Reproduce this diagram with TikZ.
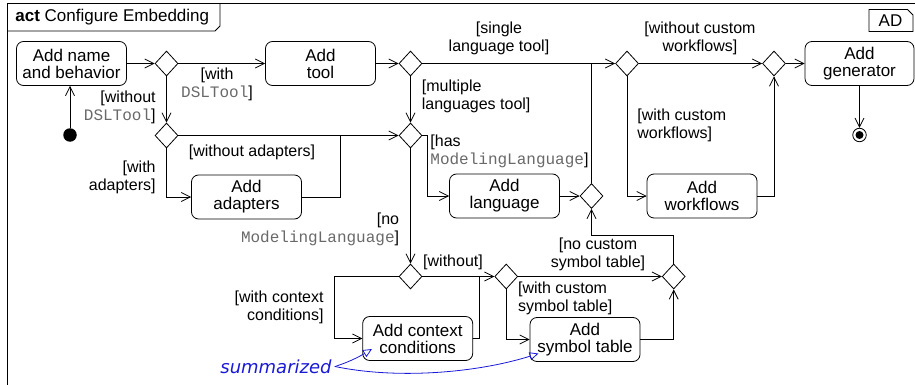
\documentclass[tikz,border=0pt]{standalone}
\usepackage{fontspec}
\setmainfont{Liberation Sans}
\setmonofont{Liberation Mono}
\newfontfamily\notefont{DejaVu Sans}
\usepackage{tikz}
\usetikzlibrary{arrows.meta}
\usetikzlibrary{shapes,positioning}
\tikzset{>={Straight Barb[length=9pt,width=9pt]}}
\definecolor{codegray}{RGB}{105,105,105}
\definecolor{noteblue}{RGB}{25,25,215}
\newcommand{\codetxt}[1]{{\ttfamily\color{codegray}#1}}
\tikzset{
  actbox/.style={draw, rounded corners=7pt, minimum width=110pt, minimum height=44pt,
    align=center, inner sep=0pt, font=\fontsize{17}{17}\selectfont},
  choice/.style={draw, diamond, minimum width=23pt, minimum height=25pt, inner sep=0pt},
  guard/.style={inner sep=0pt, font=\fontsize{16}{18}\selectfont},
  note/.style={noteblue, line width=0.8pt, -{Triangle[open,length=9pt,width=8pt]}}
}

\begin{document}
\begin{tikzpicture}[x=1pt, y=-1pt, line width=0.8pt, line cap=round]

    \useasboundingbox (0,0) rectangle (915,385);

    \draw (7.5,385) -- (7.5,3.5) -- (915,3.5);
    \draw (7.5,31) -- (215,31) -- (220,26) -- (220,3.5);
    \node[anchor=west, inner sep=0pt, font=\fontsize{17}{17}\selectfont] (title) at (15,17.5) {\textbf{act} Configure Embedding};

    \draw (869,9.5) -- (907.5,9.5) -- (913,15) -- (913,31.5) -- (869,31.5) -- cycle;
    \node[inner sep=0pt, font=\fontsize{17}{17}\selectfont] (tag) at (890.5,21) {AD};

	\node[actbox] (name) at (71.5,63.5) {Add name\\and behavior};
	\node[actbox] (tool) at (320.5,63.5) {Add\\tool};
	\node[actbox] (adapt) at (246.5,197) {Add\\adapters};
	\node[actbox] (lang) at (504.5,196) {Add\\language};
	\node[actbox] (wf) at (702,196) {Add\\workflows};
	\node[actbox, minimum width=109pt] (gen) at (859.5,63.5) {Add\\generator};
	\node[actbox] (ctx) at (417.7,338.5) {Add context\\conditions};
	\node[actbox] (sym) at (585,339.5) {Add\\symbol table};

	\node[choice] (d1) at (166.5,63.5) {};
	\node[choice] (d2) at (166.5,135.5) {};
	\node[choice] (d3) at (410.5,135.5) {};
	\node[choice] (d4) at (410.5,63.5) {};
	\node[choice] (d5) at (627,63.5) {};
	\node[choice] (d6) at (774,63.5) {};
	\node[choice] (d7) at (591.5,196) {};
	\node[choice] (d8) at (410.5,276.5) {};
	\node[choice] (d9) at (506.2,276.5) {};
	\node[choice] (d10) at (673.7,276.5) {};

	\node[circle, fill, inner sep=0pt, minimum size=13.5pt] (init) at (70,135) {};
	\node[circle, draw, inner sep=0pt, minimum size=13.5pt] (fin) at (859.5,135) {};
	\node[circle, fill, inner sep=0pt, minimum size=8pt] (findot) at (fin) {};

    \coordinate (j1) at (340,135.5);
    \coordinate (j2) at (479.3,276.5);

	\draw[->] (init) -- (init |- name.south);
	\draw[->] (name.east) -- (d1.west);
	\draw[->] (d1.east) -- (tool.west);
	\draw[->] (d1.south) -- (d2.north);
	\draw[->] (d2.east) -- (d3.west);
	\draw[->] (d2.south) |- (adapt.west);
	\draw (adapt.east) -| (j1);
	\draw[->] (tool.east) -- (d4.west);
	\draw[->] (d4.east) -- (d5.west);
	\draw[->] (d4.south) -- (d3.north);
	\draw[->] (d3.east) -- ++(5,0) |- (lang.west);
	\draw[->] (lang.east) -- (d7.west);
	\draw (d7.north) -- (d7 |- d5.west);
	\draw[->] (d3.south) -- (d8.north);
	\draw[->] (d8.east) -- (d9.west);
	\draw[->] (d8.west) -- ++(-64,0) |- (ctx.west);
	\draw (ctx.east) -| (j2);
	\draw[->] (d9.east) -- (d10.west);
	\draw[->] (d9.south) |- (sym.west);
	\draw[->] (sym.east) -| (d10.south);
	\draw[->] (d10.north) -- ++(0,-28) -| (d7.south);
	\draw[->] (d5.east) -- (d6.west);
	\draw[->] (d5.south) |- (wf.west);
	\draw[->] (wf.east) -| (d6.south);
	\draw[->] (d6.east) -- (gen.west);
	\draw[->] (gen.south) -- (fin.north);


	\node[guard, align=center] (gWithTool) at (217,84.5) {[with\\\codetxt{DSLTool}]};
	\node[guard, align=right, anchor=east] (gNoTool) at (156,107) {[without\\\codetxt{DSLTool}]};
	\node[guard] (gNoAdapt) at (252,152) {[without adapters]};
	\node[guard, align=right, anchor=east] (gWithAdapt) at (156,177.5) {[with\\adapters]};
	\node[guard, align=center] (gSingle) at (499,38.5) {[single\\language tool]};
	\node[guard, align=left, anchor=west] (gMulti) at (421.5,96) {[multiple\\languages tool]};
	\node[guard, align=left, anchor=west] (gHasLang) at (430,151) {[has\\\codetxt{ModelingLanguage}]};
	\node[guard, align=right, anchor=east] (gNoLang) at (399.5,229) {[no\\\codetxt{ModelingLanguage}]};
	\node[guard] (gNoCtx) at (453,262.5) {[without]};
	\node[guard, align=right, anchor=east] (gWithCtx) at (324,307.5) {[with context\\conditions]};
	\node[guard, align=center] (gNoSym) at (598,254) {[no custom\\symbol table]};
	\node[guard, align=left, anchor=west] (gWithSym) at (517.7,298.7) {[with custom\\symbol table]};
	\node[guard, align=center] (gNoWf) at (700,38.5) {[without custom\\workflows]};
	\node[guard, align=left, anchor=west] (gWithWf) at (637,125) {[with custom\\workflows]};


	\node[inner sep=3pt, noteblue, font=\notefont\itshape\fontsize{18}{18}\selectfont] (sumtxt) at (276,366.5) {summarized};
    \coordinate (ctxTip) at (372,349);
    \coordinate (symTip) at (538.5,353.5);
	\draw[note] (sumtxt.east) .. controls (352,361) and (362,355) .. (ctxTip);
	\draw[note] (sumtxt.east) .. controls (400,380) and (480,372) .. (symTip);

\end{tikzpicture}
\end{document}
